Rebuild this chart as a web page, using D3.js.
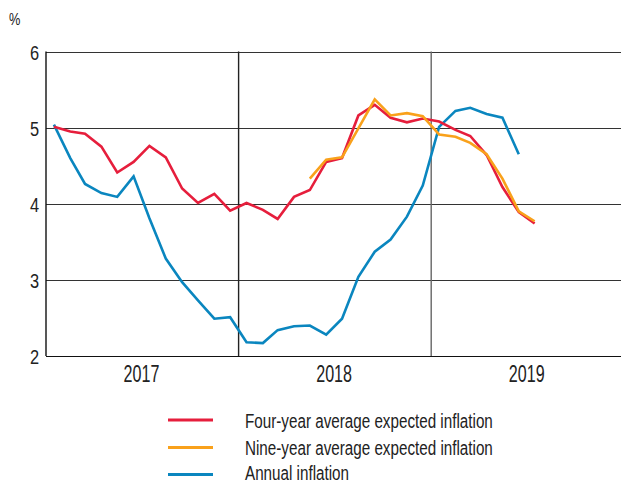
<!DOCTYPE html>
<html><head><meta charset="utf-8">
<script src="https://cdn.jsdelivr.net/npm/d3@7"></script>
<style>body{margin:0;background:#fff}svg{display:block}</style>
</head><body>
<svg id="c" width="621" height="485"></svg>
<script>
const months = [
 "2017-01","2017-02","2017-03","2017-04","2017-05","2017-06","2017-07","2017-08","2017-09","2017-10","2017-11","2017-12",
 "2018-01","2018-02","2018-03","2018-04","2018-05","2018-06","2018-07","2018-08","2018-09","2018-10","2018-11","2018-12",
 "2019-01","2019-02","2019-03","2019-04","2019-05","2019-06","2019-07"];
const fourYear = [5.01,4.95,4.92,4.75,4.41,4.55,4.76,4.61,4.20,4.01,4.13,3.91,
 4.01,3.92,3.80,4.09,4.18,4.55,4.60,5.16,5.30,5.13,5.07,5.12,
 5.08,4.97,4.89,4.64,4.22,3.89,3.74];
const nineYear = [null,null,null,null,null,null,null,null,null,null,null,null,
 null,null,null,null,4.33,4.58,4.61,4.99,5.37,5.16,5.19,5.15,
 4.91,4.88,4.80,4.65,4.33,3.90,3.77];
const annual = [5.04,4.60,4.26,4.14,4.09,4.36,3.81,3.28,2.97,2.73,2.49,2.51,
 2.18,2.17,2.34,2.39,2.40,2.28,2.49,3.04,3.37,3.53,3.83,4.24,
 5.01,5.22,5.26,5.18,5.13,4.65,null];
const years = ["2017","2018","2019"];
const yTicks = [2,3,4,5,6];
const seriesNames = ["Four-year average expected inflation","Nine-year average expected inflation","Annual inflation"];
const colors = ["#e61e3c","#f9a11b","#0a86bf"];

const svg = d3.select("#c");
const pLeft = 46, pRight = 621, pTop = 51.5, pBottom = 356;
const font = "'Liberation Sans',Arial,sans-serif";

const parse = d3.timeParse("%Y-%m");
const x = d3.scaleTime().domain([new Date(2017,0,1), new Date(2020,0,1)]).range([pLeft, pLeft + 3*192.6]);
const y = d3.scaleLinear().domain([2,6]).range([pBottom, pTop]);
const mid = d => { const t = parse(d); return x(new Date(t.getFullYear(), t.getMonth(), 16)); };

function ctext(str, tx, ty, size, sx, anchor) {
  return svg.append("text")
    .attr("transform", `translate(${tx},${ty}) scale(${sx},1)`)
    .attr("text-anchor", anchor || "start")
    .attr("font-family", font).attr("font-size", size).attr("fill", "#222")
    .text(str);
}

const g = svg.append("g");
g.selectAll("line.h").data(yTicks).join("line")
  .attr("x1", pLeft).attr("x2", pRight)
  .attr("y1", d => Math.round(y(d)) + 0.5).attr("y2", d => Math.round(y(d)) + 0.5)
  .attr("stroke", d => d === 2 ? "#111" : "#333").attr("stroke-width", 1.2);
g.selectAll("line.v").data([new Date(2018,0,1), new Date(2019,0,1)]).join("line")
  .attr("x1", d => x(d)).attr("x2", d => x(d))
  .attr("y1", pTop).attr("y2", pBottom)
  .attr("stroke", (d,i) => i === 0 ? "#222" : "#666").attr("stroke-width", 1.4);
g.append("line").attr("x1", pLeft).attr("x2", pLeft).attr("y1", pTop).attr("y2", pBottom)
  .attr("stroke", "#111").attr("stroke-width", 1.4);

yTicks.forEach(d => ctext(String(d), 39, y(d) + 8, 21, 0.78, "end"));
ctext("%", 9, 25, 16, 0.8, "start");

years.forEach(d => ctext(d, x(new Date(+d, 6, 1)), 382, 23, 0.7, "middle"));

const line = d3.line().defined(d => d[1] != null)
  .x(d => mid(d[0])).y(d => y(d[1]));
const allSeries = [fourYear, nineYear, annual];
[2, 0, 1].forEach(i => {
  svg.append("path").datum(months.map((m, j) => [m, allSeries[i][j]]))
    .attr("d", line).attr("fill", "none").attr("stroke", colors[i])
    .attr("stroke-width", 2.6).attr("stroke-linejoin", "miter");
});

const legY = [420, 447.5, 474.5];
const legBase = [427.5, 455, 480.3];
const probe = svg.append("text").attr("font-family", font).attr("font-size", 21).text(seriesNames[0]);
const legSx = 248 / probe.node().getComputedTextLength();
probe.remove();
seriesNames.forEach((n, i) => {
  svg.append("line").attr("x1", 168).attr("x2", 213).attr("y1", legY[i]).attr("y2", legY[i])
    .attr("stroke", colors[i]).attr("stroke-width", 2.8);
  ctext(n, 245, legBase[i], 21, legSx, "start");
});
</script>
</body></html>
